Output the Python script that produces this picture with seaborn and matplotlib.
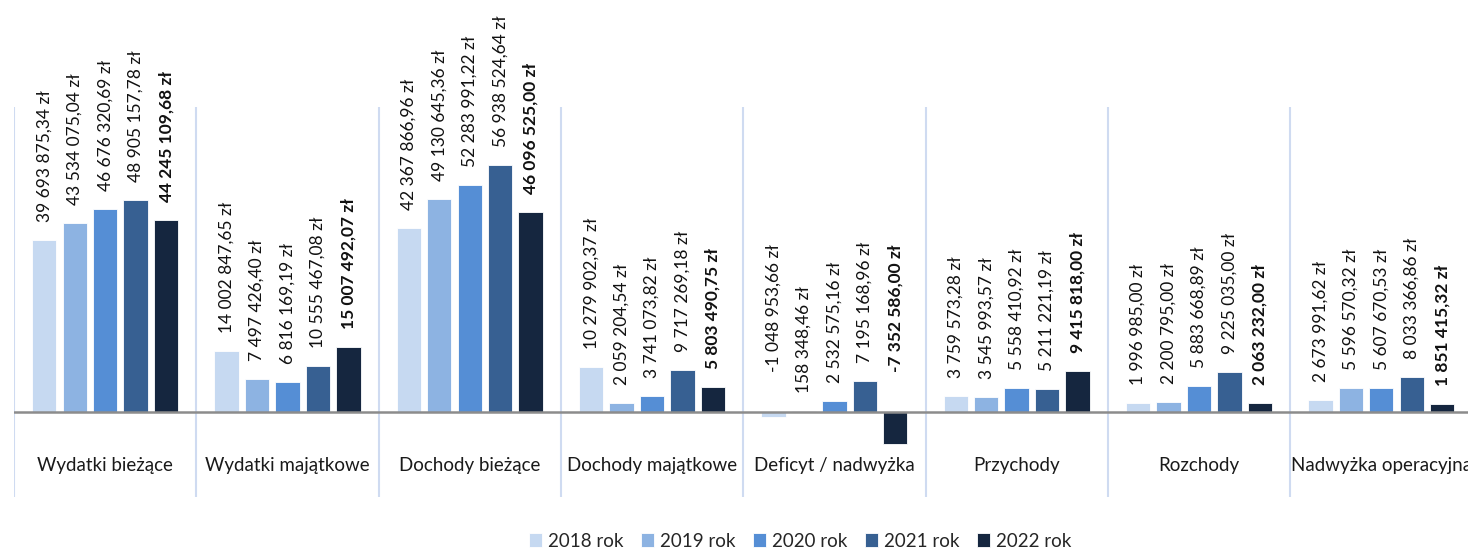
import matplotlib
matplotlib.use("Agg")
import matplotlib.pyplot as plt
import matplotlib.transforms as mtransforms
import pandas as pd
import seaborn as sns

# dane (zł)
kategorie = ["Wydatki bieżące", "Wydatki majątkowe", "Dochody bieżące", "Dochody majątkowe",
             "Deficyt / nadwyżka", "Przychody", "Rozchody", "Nadwyżka operacyjna"]
lata = ["2018 rok", "2019 rok", "2020 rok", "2021 rok", "2022 rok"]
rok_2018 = [39693875.34, 14002847.65, 42367866.96, 10279902.37, -1048953.66, 3759573.28, 1996985.00, 2673991.62]
rok_2019 = [43534075.04, 7497426.40, 49130645.36, 2059204.54, 158348.46, 3545993.57, 2200795.00, 5596570.32]
rok_2020 = [46676320.69, 6816169.19, 52283991.22, 3741073.82, 2532575.16, 5558410.92, 5883668.89, 5607670.53]
rok_2021 = [48905157.78, 10555467.08, 56938524.64, 9717269.18, 7195168.96, 5211221.19, 9225035.00, 8033366.86]
rok_2022 = [44245109.68, 15007492.07, 46096525.00, 5803490.75, -7352586.00, 9415818.00, 2063232.00, 1851415.32]
kolory = ["#C6D9F1", "#8DB3E2", "#558ED5", "#376092", "#15263F"]

serie = [rok_2018, rok_2019, rok_2020, rok_2021, rok_2022]
df = pd.DataFrame({
    "kategoria": kategorie * len(lata),
    "rok": [r for r in lata for _ in kategorie],
    "wartosc": [v for s in serie for v in s],
})


def fmt_zl(v):
    s = f"{v:,.2f}".replace(",", " ").replace(".", ",")
    return s + " zł"


sns.set_style("white")
plt.rcParams["font.family"] = ["Lato", "DejaVu Sans"]

fig = plt.figure(figsize=(14.68, 5.51), dpi=100)
W, H = 1468, 551
ax = fig.add_axes([14 / W, (H - 497) / H, 182.3 * 8 / W, 390 / H])

sns.barplot(data=df, x="kategoria", y="wartosc", hue="rok", order=kategorie, hue_order=lata,
            palette=kolory, saturation=1, width=0.835, gap=0.2, edgecolor="white",
            linewidth=0.6, legend=True, ax=ax)

ax.set_xlim(-0.5, len(kategorie) - 0.5)
ax.set_ylim(-19.6e6, 70.3e6)
for s in ax.spines.values():
    s.set_visible(False)
ax.set_xticks([])
ax.set_yticks([])
ax.set_xlabel("")
ax.set_ylabel("")

# separatory kategorii i os zero
for k in range(len(kategorie) + 1):
    ax.axvline(k - 0.5, color="#CFDBF1", lw=1.5, zorder=0)
ax.axhline(0, color="#8C8C8C", lw=1.8, zorder=3)

# etykiety kategorii (ostatnia ucięta przy prawej krawędzi, jak w oryginale)
tr = mtransforms.blended_transform_factory(ax.transData, ax.transAxes)
for i, k in enumerate(kategorie):
    ax.text(i, 0.082, k, transform=tr, ha="center", va="center", fontsize=13.5, color="#1A1A1A")

# etykiety wartosci
for j, cont in enumerate(ax.containers):
    for bar, v in zip(cont, serie[j]):
        x = bar.get_x() + bar.get_width() / 2
        base = max(v, 0)
        off = 13 if v >= 0 else 29
        ax.annotate(fmt_zl(v), (x, base), xytext=(0, off), textcoords="offset points",
                    rotation=90, ha="center", va="bottom", fontsize=12.5, color="#111111",
                    fontweight="bold" if j == 4 else "normal", annotation_clip=False)

handles, labels = ax.get_legend_handles_labels()
ax.get_legend().remove()
fig.legend(handles, labels, loc="lower center", bbox_to_anchor=(0.545, -0.028), ncol=5,
           frameon=False, fontsize=13.5, handlelength=0.7, handleheight=0.7,
           handletextpad=0.3, columnspacing=0.95)

fig.savefig("out.png", dpi=100)
